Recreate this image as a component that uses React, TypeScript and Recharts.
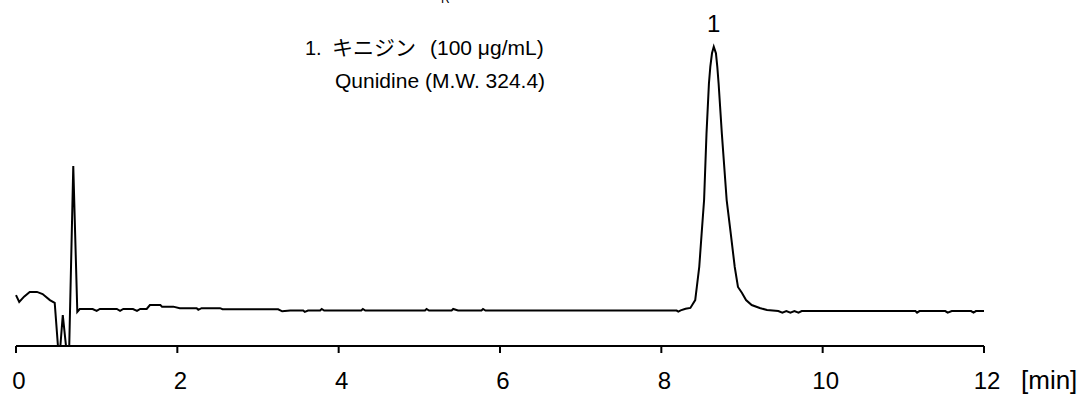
import { Line, LineChart, ReferenceDot, XAxis, YAxis } from "recharts";

// retention time [min] and detector signal (peak = 100)
const time = [
  0.0, 0.04, 0.1, 0.17, 0.26, 0.33, 0.42, 0.48, 0.52, 0.55, 0.58, 0.62, 0.66, 0.71, 0.76, 0.79,
  0.95, 1.0, 1.04, 1.25, 1.29, 1.33, 1.45, 1.5, 1.54, 1.62, 1.66, 1.79, 1.81, 1.95, 2.03, 2.24,
  2.26, 2.3, 2.53, 2.56, 3.25, 3.3, 3.4, 3.56, 3.58, 3.62, 3.77, 3.79, 3.82, 4.28, 4.3, 4.33,
  5.07, 5.09, 5.12, 5.4, 5.42, 5.48, 5.77, 5.79, 5.82, 8.19, 8.21, 8.24, 8.3, 8.36, 8.42, 8.44,
  8.47, 8.5, 8.53, 8.56, 8.59, 8.607, 8.628, 8.65, 8.677, 8.694, 8.71, 8.75, 8.81, 8.86, 8.91,
  8.95, 9.0, 9.05, 9.12, 9.22, 9.31, 9.45, 9.5, 9.55, 9.6, 9.65, 9.7, 9.74, 11.15, 11.17, 11.2,
  11.52, 11.55, 11.6, 11.84, 11.87, 11.9, 12.0,
];
const signal = [
  5.4, 2.8, 4.8, 6.6, 6.6, 5.8, 3.5, 2.4, -14, -14, -2.2, -14, -14, 54.6, -1.0, 0.1,
  0.1, -0.6, 0.1, 0.1, -0.6, 0.1, 0.1, -0.6, 0.1, 0.1, 1.6, 1.6, 1.0, 1.0, 0.4, 0.4,
  -0.2, 0.4, 0.4, 0.0, 0.0, -0.8, -0.5, -0.5, -1.0, -0.5, -0.5, 0.1, -0.5, -0.5, 0.1, -0.5,
  -0.5, 0.1, -0.5, -0.5, 0.1, -0.5, -0.5, 0.1, -0.5, -0.5, -0.9, -0.4, 0.2, 0.5, 3.5, 8.5,
  16.1, 29, 41.6, 67, 86, 92.3, 97.5, 100, 97.5, 92.3, 86, 67, 41.6, 29, 16.1,
  8.5, 6.2, 3.5, 1.6, 0.5, -0.3, -0.7, -1.3, -0.7, -1.3, -0.7, -1.3, -0.7, -0.7, -1.3, -0.7,
  -0.7, -1.3, -0.7, -0.7, -1.3, -0.7, -0.7,
];
const xTicks = [0, 2, 4, 6, 8, 10, 12];
const peakTime = 8.65;
const peakLabel = "1";

const data = time.map((t, i) => ({ t, v: signal[i] }));

const latin = "'Liberation Sans', Arial, sans-serif";
const cjk = "'Noto Sans CJK JP', sans-serif";

export default function App() {
  return (
    <div style={{ position: "absolute", left: 0, top: 0, width: 1083, height: 394, background: "#fff" }}>
      <LineChart width={1083} height={394} data={data} margin={{ top: 10, right: 99, bottom: 18, left: 16 }}>
        <XAxis
          dataKey="t"
          type="number"
          domain={[0, 12]}
          ticks={xTicks}
          height={30}
          axisLine={{ stroke: "#000", strokeWidth: 2 }}
          tickLine={{ stroke: "#000", strokeWidth: 2 }}
          tickSize={7}
          tickMargin={19}
          tick={{ fill: "#000", fontSize: 24, fontFamily: latin, dx: 3 }}
          interval={0}
        />
        <YAxis hide domain={[-14, 114]} allowDataOverflow />
        <Line
          type="linear"
          dataKey="v"
          stroke="#000"
          strokeWidth={2}
          dot={false}
          isAnimationActive={false}
        />
        <ReferenceDot
          x={peakTime}
          y={100}
          r={0}
          fill="none"
          stroke="none"
          label={{ value: peakLabel, position: "top", offset: 15, fill: "#000", fontSize: 24, fontFamily: latin }}
        />
      </LineChart>
      <svg
        width={1083}
        height={394}
        style={{ position: "absolute", left: 0, top: 0, pointerEvents: "none" }}
      >
        <text x={441} y={3} fontSize={12} fontFamily={latin} fill="#000">R</text>
        <text x={305} y={55} fontSize={20} fontFamily={latin} fill="#000">1.</text>
        <text x={332} y={55} fontSize={21} fontFamily={cjk} fill="#000">キニジン</text>
        <text x={430} y={55} fontSize={21} fontFamily={latin} fill="#000">(100 μg/mL)</text>
        <text x={335} y={88} fontSize={21} fontFamily={latin} fill="#000">Qunidine (M.W. 324.4)</text>
        <text x={1021} y={389} fontSize={26} fontFamily={latin} fill="#000">[min]</text>
      </svg>
    </div>
  );
}
